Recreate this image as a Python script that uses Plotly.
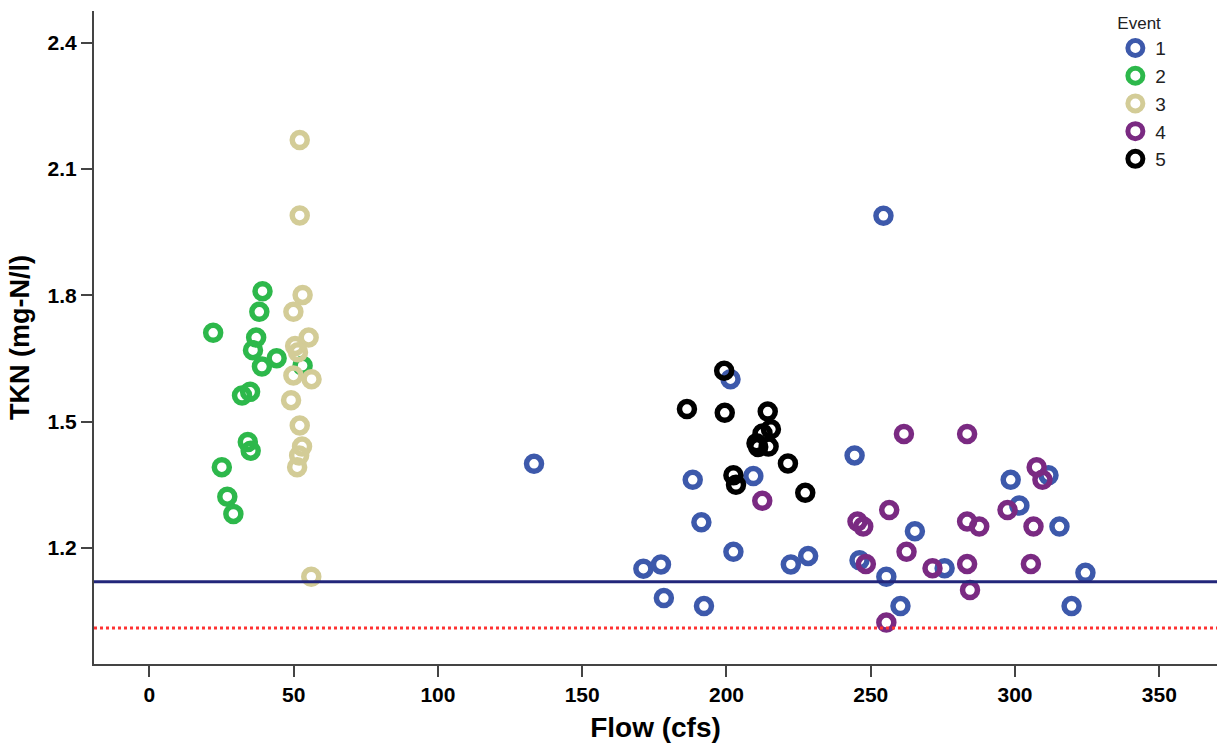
import plotly.graph_objects as go

# Event 1 (blue)
e1_flow = [133.3, 201.4, 188.3, 209.3, 191.3, 202.4, 171.2, 177.3, 178.3, 192.2, 222.3, 228.3,
           254.4, 244.4, 298.5, 311.6, 301.5, 265.3, 315.4, 246.1, 255.4, 275.6, 324.4, 260.3, 319.6]
e1_tkn = [1.400, 1.601, 1.362, 1.371, 1.261, 1.191, 1.151, 1.161, 1.081, 1.062, 1.161, 1.181,
          1.989, 1.420, 1.362, 1.373, 1.301, 1.240, 1.251, 1.171, 1.132, 1.152, 1.141, 1.062, 1.062]
# Event 2 (green)
e2_flow = [22.1, 39.2, 38.1, 37.0, 35.9, 44.1, 39.0, 53.1, 32.1, 34.9, 34.1, 35.1, 25.1, 27.0, 29.1]
e2_tkn = [1.711, 1.810, 1.761, 1.700, 1.670, 1.651, 1.631, 1.633, 1.562, 1.571, 1.452, 1.431, 1.392, 1.322, 1.281]
# Event 3 (tan)
e3_flow = [52.1, 52.1, 53.1, 49.9, 55.2, 50.5, 51.5, 49.9, 56.2, 49.1, 52.1, 52.9, 51.9, 51.2, 56.1]
e3_tkn = [2.169, 1.990, 1.801, 1.761, 1.700, 1.680, 1.665, 1.610, 1.601, 1.551, 1.491, 1.441, 1.420, 1.392, 1.132]
# Event 4 (purple)
e4_flow = [212.4, 261.5, 283.4, 307.5, 309.5, 256.4, 297.4, 245.4, 247.4, 283.4, 287.6, 306.4,
           262.4, 248.3, 271.4, 283.4, 305.5, 284.4, 255.4]
e4_tkn = [1.312, 1.471, 1.471, 1.392, 1.362, 1.290, 1.290, 1.263, 1.251, 1.263, 1.251, 1.251,
          1.191, 1.162, 1.152, 1.162, 1.162, 1.100, 1.023]
# Event 5 (black)
e5_flow = [199.2, 186.3, 199.4, 214.3, 215.4, 212.5, 210.4, 214.6, 211.0, 221.3, 202.4, 203.3, 227.3]
e5_tkn = [1.621, 1.530, 1.521, 1.524, 1.482, 1.472, 1.449, 1.441, 1.440, 1.401, 1.373, 1.350, 1.331]

event_names = ["1", "2", "3", "4", "5"]
event_colors = ["#3D59AB", "#2DB84B", "#D3CC97", "#7A2A82", "#000000"]

mean_line = 1.12
limit_line = 1.01

x_ticks = [0, 50, 100, 150, 200, 250, 300, 350]
y_ticks = [1.2, 1.5, 1.8, 2.1, 2.4]

series = [(e1_flow, e1_tkn), (e2_flow, e2_tkn), (e3_flow, e3_tkn), (e4_flow, e4_tkn), (e5_flow, e5_tkn)]

fig = go.Figure()
for (xs, ys), name, col in zip(series, event_names, event_colors):
    fig.add_trace(go.Scatter(
        x=xs, y=ys, mode="markers", name=name, legendgroup=name,
        marker=dict(symbol="circle-open", size=15, color=col, line=dict(width=5.5, color=col)),
    ))

fig.add_hline(y=mean_line, line=dict(color="#22267A", width=3))
fig.add_hline(y=limit_line, line=dict(color="#FF3333", width=3, dash="dot"))

font_family = "Liberation Sans, Arial, sans-serif"
tick_family = "Liberation Sans Narrow, Arial Narrow, Liberation Sans, sans-serif"
fig.update_layout(
    width=1217, height=751,
    margin=dict(l=94, r=0, t=11, b=87),
    paper_bgcolor="white", plot_bgcolor="white",
    font=dict(family=font_family, color="#000000"),
    showlegend=True,
    legend=dict(
        title=dict(text="Event", font=dict(size=17, family=font_family, color="#222222")),
        x=0.9095, y=1.006, xanchor="left", yanchor="top",
        font=dict(size=19, family=tick_family, color="#222222"),
        bgcolor="rgba(0,0,0,0)", tracegroupgap=0,
        itemwidth=30,
    ),
    xaxis=dict(
        range=[-19.2, 370], tickvals=x_ticks, ticktext=[str(v) for v in x_ticks],
        showgrid=False, zeroline=False, showline=True, linecolor="#444444", linewidth=2,
        ticks="outside", ticklen=11, tickwidth=2, tickcolor="#444444",
        tickfont=dict(size=21, family=tick_family, weight="bold"),
        title=dict(text="<b>Flow (cfs)</b>", font=dict(size=28, family=font_family), standoff=12),
    ),
    yaxis=dict(
        range=[0.9245, 2.4755], tickvals=y_ticks, ticktext=[f"{v:.1f}" for v in y_ticks],
        showgrid=False, zeroline=False, showline=True, linecolor="#444444", linewidth=2,
        ticks="outside", ticklen=11, tickwidth=2, tickcolor="#444444",
        tickfont=dict(size=21, family=tick_family, weight="bold"),
        title=dict(text="<b>TKN (mg-N/l)</b>", font=dict(size=27, family=font_family), standoff=10),
    ),
)

fig.write_html("out.html")
